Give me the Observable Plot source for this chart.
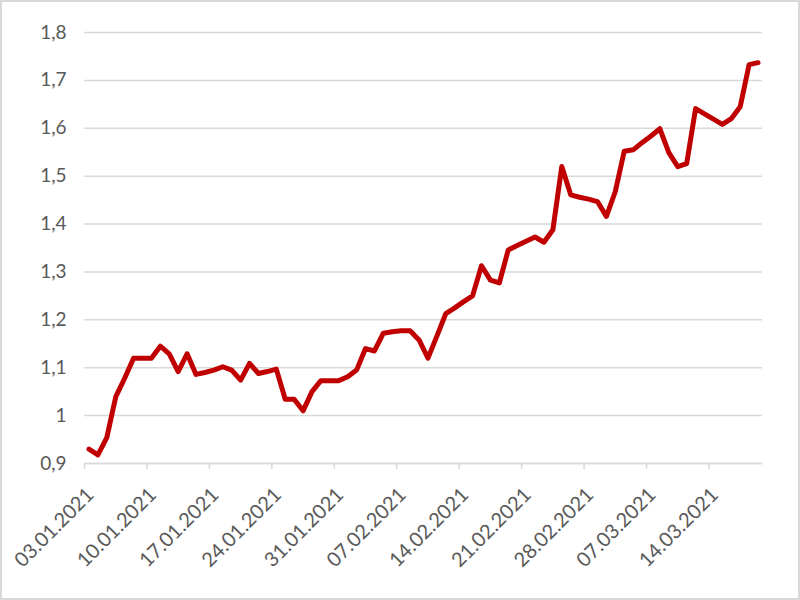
<!DOCTYPE html>
<html>
<head>
<meta charset="utf-8">
<script src="https://cdn.jsdelivr.net/npm/d3@7"></script>
<script src="https://cdn.jsdelivr.net/npm/@observablehq/plot@0.6"></script>
<style>
  html, body { margin: 0; padding: 0; background: #fff; }
  #wrap { position: relative; width: 800px; height: 600px; overflow: hidden; }
  #frame { position: absolute; left: 0; top: 0; width: 796px; height: 596px; border: 2px solid #d9d9d9; pointer-events: none; }
</style>
</head>
<body>
<div id="wrap"><div id="frame"></div></div>
<script>
// Daily values, 03.01.2021 – 19.03.2021
const dates = [
  "2021-01-03","2021-01-04","2021-01-05","2021-01-06","2021-01-07","2021-01-08","2021-01-09","2021-01-10",
  "2021-01-11","2021-01-12","2021-01-13","2021-01-14","2021-01-15","2021-01-16","2021-01-17","2021-01-18",
  "2021-01-19","2021-01-20","2021-01-21","2021-01-22","2021-01-23","2021-01-24","2021-01-25","2021-01-26",
  "2021-01-27","2021-01-28","2021-01-29","2021-01-30","2021-01-31","2021-02-01","2021-02-02","2021-02-03",
  "2021-02-04","2021-02-05","2021-02-06","2021-02-07","2021-02-08","2021-02-09","2021-02-10","2021-02-11",
  "2021-02-12","2021-02-13","2021-02-14","2021-02-15","2021-02-16","2021-02-17","2021-02-18","2021-02-19",
  "2021-02-20","2021-02-21","2021-02-22","2021-02-23","2021-02-24","2021-02-25","2021-02-26","2021-02-27",
  "2021-02-28","2021-03-01","2021-03-02","2021-03-03","2021-03-04","2021-03-05","2021-03-06","2021-03-07",
  "2021-03-08","2021-03-09","2021-03-10","2021-03-11","2021-03-12","2021-03-13","2021-03-14","2021-03-15",
  "2021-03-16","2021-03-17","2021-03-18","2021-03-19"
];
const values = [
  0.930, 0.918, 0.954, 1.039, 1.078, 1.120, 1.120, 1.120,
  1.145, 1.129, 1.092, 1.129, 1.086, 1.090, 1.095, 1.102,
  1.095, 1.074, 1.109, 1.088, 1.092, 1.097, 1.034, 1.034,
  1.010, 1.050, 1.073, 1.073, 1.073, 1.081, 1.095, 1.140,
  1.135, 1.172, 1.175, 1.177, 1.177, 1.158, 1.120, 1.166,
  1.213, 1.225, 1.238, 1.250, 1.313, 1.283, 1.277, 1.346,
  1.355, 1.364, 1.373, 1.362, 1.388, 1.520, 1.461, 1.456,
  1.452, 1.447, 1.416, 1.468, 1.552, 1.555, 1.570, 1.584,
  1.599, 1.549, 1.520, 1.526, 1.641, 1.630, 1.619, 1.608,
  1.620, 1.645, 1.733, 1.737
];
const xTickLabels = ["2021-01-03","2021-01-10","2021-01-17","2021-01-24","2021-01-31","2021-02-07","2021-02-14","2021-02-21","2021-02-28","2021-03-07","2021-03-14"];
const yTicks = [0.9, 1.0, 1.1, 1.2, 1.3, 1.4, 1.5, 1.6, 1.7, 1.8];
const xStart = "2021-01-03";
const xEnd = "2021-03-20";

const data = dates.map((d, i) => ({date: new Date(d + "T00:00Z"), value: values[i]}));
const xTicks = xTickLabels.map(s => new Date(s + "T00:00Z"));
// Excel-style: each day's point sits at the middle of its day band
const mid = d => d3.utcHour.offset(d.date, 12);
const fmtY = v => String(+v.toFixed(1)).replace(".", ",");
const fmtX = d3.utcFormat("%d.%m.%Y");

const chart = Plot.plot({
  width: 800,
  height: 600,
  marginLeft: 84,
  marginRight: 38,
  marginTop: 32,
  marginBottom: 137,
  style: {fontFamily: "Lato, sans-serif", fontSize: "19px", color: "#595959", background: "transparent"},
  x: {type: "utc", domain: [new Date(xStart + "T00:00Z"), new Date(xEnd + "T00:00Z")], label: null},
  y: {domain: [0.9, 1.8], label: null},
  marks: [
    Plot.gridY(yTicks, {stroke: "#d9d9d9", strokeOpacity: 1, strokeWidth: 1.5}),
    Plot.axisY(yTicks, {tickSize: 0, tickPadding: 18, tickFormat: fmtY, fill: "#595959", fontSize: 19, label: null}),
    Plot.ruleY([0.9], {stroke: "#d9d9d9", strokeWidth: 1.5}),
    Plot.axisX(xTicks, {tickSize: 6, stroke: "#d9d9d9", strokeWidth: 1.5, tickFormat: () => "", label: null}),
    Plot.axisX(xTicks, {
      tickSize: 0, tickRotate: -45, tickPadding: 28,
      tickFormat: fmtX, fill: "#595959", fontSize: 20, dx: 6, label: null
    }),
    Plot.line(data, {x: mid, y: "value", stroke: "#C00000", strokeWidth: 5, strokeLinejoin: "round", strokeLinecap: "round"})
  ]
});
document.getElementById("wrap").prepend(chart);
</script>
</body>
</html>
